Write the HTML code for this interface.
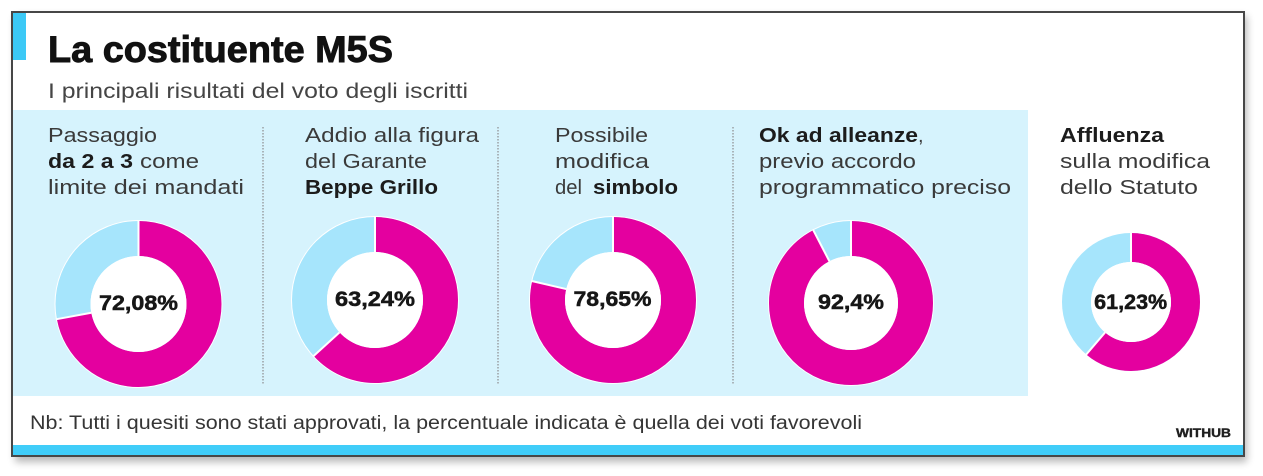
<!DOCTYPE html>
<html>
<head>
<meta charset="utf-8">
<style>
html,body{margin:0;padding:0;background:#fff;width:1263px;height:476px;overflow:hidden}
svg{display:block}
text{font-family:"Liberation Sans","DejaVu Sans",sans-serif}
.reg{font-size:20px;fill:#3a3a3a}
.bld{font-size:20px;font-weight:bold;fill:#1c1c1c}
.pct{font-size:21px;font-weight:bold;fill:#161616;stroke:#161616;stroke-width:0.5}
</style>
</head>
<body>
<svg width="1263" height="476" viewBox="0 0 1263 476">
<defs>
<filter id="sh" x="-3%" y="-5%" width="106%" height="115%"><feGaussianBlur stdDeviation="4"/></filter>
</defs>
<!-- shadow + frame -->
<rect x="15" y="16" width="1232" height="446" fill="#000" opacity="0.28" filter="url(#sh)"/>
<rect x="12" y="12" width="1232" height="444" fill="#fff" stroke="#474747" stroke-width="2"/>
<!-- accent bar -->
<rect x="13" y="13" width="13" height="47" fill="#3cc9f6"/>
<!-- title -->
<text x="48" y="62" font-size="37" font-weight="bold" fill="#111" stroke="#111" stroke-width="0.9" textLength="345" lengthAdjust="spacingAndGlyphs">La costituente M5S</text>
<text x="48" y="98" font-size="21" fill="#454545" textLength="420" lengthAdjust="spacingAndGlyphs">I principali risultati del voto degli iscritti</text>
<!-- blue panel -->
<rect x="13" y="110" width="1015" height="286" fill="#d6f3fd"/>
<!-- dividers -->
<g stroke="#9a9fa3" stroke-width="1.5" stroke-dasharray="1.5 1.5">
<line x1="263" y1="127" x2="263" y2="385"/>
<line x1="498" y1="127" x2="498" y2="385"/>
<line x1="733" y1="127" x2="733" y2="385"/>
</g>

<!-- panel 1 text -->
<text class="reg" x="48" y="142" textLength="109" lengthAdjust="spacingAndGlyphs">Passaggio</text>
<text class="bld" x="48" y="168" textLength="85" lengthAdjust="spacingAndGlyphs">da 2 a 3</text>
<text class="reg" x="140" y="168" textLength="59" lengthAdjust="spacingAndGlyphs">come</text>
<text class="reg" x="48" y="194" textLength="196" lengthAdjust="spacingAndGlyphs">limite dei mandati</text>

<!-- panel 2 text -->
<text class="reg" x="305" y="142" textLength="174" lengthAdjust="spacingAndGlyphs">Addio alla figura</text>
<text class="reg" x="305" y="168" textLength="122" lengthAdjust="spacingAndGlyphs">del Garante</text>
<text class="bld" x="305" y="194" textLength="133" lengthAdjust="spacingAndGlyphs">Beppe Grillo</text>

<!-- panel 3 text -->
<text class="reg" x="555" y="142" textLength="93" lengthAdjust="spacingAndGlyphs">Possibile</text>
<text class="reg" x="555" y="168" textLength="94" lengthAdjust="spacingAndGlyphs">modifica</text>
<text class="reg" x="555" y="194" textLength="27" lengthAdjust="spacingAndGlyphs">del</text>
<text class="bld" x="593" y="194" textLength="85" lengthAdjust="spacingAndGlyphs">simbolo</text>

<!-- panel 4 text -->
<text class="bld" x="759" y="142" textLength="159" lengthAdjust="spacingAndGlyphs">Ok ad alleanze</text>
<text class="reg" x="918" y="142">,</text>
<text class="reg" x="759" y="168" textLength="157" lengthAdjust="spacingAndGlyphs">previo accordo</text>
<text class="reg" x="759" y="194" textLength="252" lengthAdjust="spacingAndGlyphs">programmatico preciso</text>

<!-- panel 5 text -->
<text class="bld" x="1060" y="142" textLength="104" lengthAdjust="spacingAndGlyphs">Affluenza</text>
<text class="reg" x="1060" y="168" textLength="150" lengthAdjust="spacingAndGlyphs">sulla modifica</text>
<text class="reg" x="1060" y="194" textLength="138" lengthAdjust="spacingAndGlyphs">dello Statuto</text>

<!-- donut 1 -->
<g>
<circle cx="138.5" cy="304" r="84" fill="#fff"/>
<circle cx="138.5" cy="304" r="65.5" fill="none" stroke="#a6e5fc" stroke-width="35"/>
<circle cx="138.5" cy="304" r="65.5" fill="none" stroke="#e4009f" stroke-width="35" pathLength="100" stroke-dasharray="72.08 100" transform="rotate(-90 138.5 304)"/>
<circle cx="138.5" cy="304" r="48" fill="#fff"/>
<line x1="138.5" y1="256" x2="138.5" y2="220" stroke="#fff" stroke-width="2"/>
<line x1="138.5" y1="256" x2="138.5" y2="220" stroke="#fff" stroke-width="2" transform="rotate(259.49 138.5 304)"/>
<text class="pct" x="138.5" y="310" text-anchor="middle" textLength="79" lengthAdjust="spacingAndGlyphs">72,08%</text>
</g>
<!-- donut 2 -->
<g>
<circle cx="375" cy="300" r="84" fill="#fff"/>
<circle cx="375" cy="300" r="65.5" fill="none" stroke="#a6e5fc" stroke-width="35"/>
<circle cx="375" cy="300" r="65.5" fill="none" stroke="#e4009f" stroke-width="35" pathLength="100" stroke-dasharray="63.24 100" transform="rotate(-90 375 300)"/>
<circle cx="375" cy="300" r="48" fill="#fff"/>
<line x1="375" y1="252" x2="375" y2="216" stroke="#fff" stroke-width="2"/>
<line x1="375" y1="252" x2="375" y2="216" stroke="#fff" stroke-width="2" transform="rotate(227.66 375 300)"/>
<text class="pct" x="375" y="306" text-anchor="middle" textLength="80" lengthAdjust="spacingAndGlyphs">63,24%</text>
</g>
<!-- donut 3 -->
<g>
<circle cx="613" cy="300" r="84" fill="#fff"/>
<circle cx="613" cy="300" r="65.5" fill="none" stroke="#a6e5fc" stroke-width="35"/>
<circle cx="613" cy="300" r="65.5" fill="none" stroke="#e4009f" stroke-width="35" pathLength="100" stroke-dasharray="78.65 100" transform="rotate(-90 613 300)"/>
<circle cx="613" cy="300" r="48" fill="#fff"/>
<line x1="613" y1="252" x2="613" y2="216" stroke="#fff" stroke-width="2"/>
<line x1="613" y1="252" x2="613" y2="216" stroke="#fff" stroke-width="2" transform="rotate(283.14 613 300)"/>
<text class="pct" x="612.5" y="306" text-anchor="middle" textLength="78" lengthAdjust="spacingAndGlyphs">78,65%</text>
</g>
<!-- donut 4 -->
<g>
<circle cx="851" cy="303" r="83" fill="#fff"/>
<circle cx="851" cy="303" r="64.5" fill="none" stroke="#a6e5fc" stroke-width="35"/>
<circle cx="851" cy="303" r="64.5" fill="none" stroke="#e4009f" stroke-width="35" pathLength="100" stroke-dasharray="92.4 100" transform="rotate(-90 851 303)"/>
<circle cx="851" cy="303" r="47" fill="#fff"/>
<line x1="851" y1="256" x2="851" y2="220" stroke="#fff" stroke-width="2"/>
<line x1="851" y1="256" x2="851" y2="220" stroke="#fff" stroke-width="2" transform="rotate(332.64 851 303)"/>
<text class="pct" x="851" y="309" text-anchor="middle" textLength="66" lengthAdjust="spacingAndGlyphs">92,4%</text>
</g>
<!-- donut 5 -->
<g>
<circle cx="1131" cy="302" r="70" fill="#fff"/>
<circle cx="1131" cy="302" r="54.5" fill="none" stroke="#a6e5fc" stroke-width="29"/>
<circle cx="1131" cy="302" r="54.5" fill="none" stroke="#e4009f" stroke-width="29" pathLength="100" stroke-dasharray="61.23 100" transform="rotate(-90 1131 302)"/>
<circle cx="1131" cy="302" r="40" fill="#fff"/>
<line x1="1131" y1="262" x2="1131" y2="232" stroke="#fff" stroke-width="2"/>
<line x1="1131" y1="262" x2="1131" y2="232" stroke="#fff" stroke-width="2" transform="rotate(220.43 1131 302)"/>
<text class="pct" x="1130.7" y="309" text-anchor="middle" font-size="20" textLength="73" lengthAdjust="spacingAndGlyphs">61,23%</text>
</g>

<!-- footer -->
<text x="30" y="429" font-size="19" fill="#353535" textLength="832" lengthAdjust="spacingAndGlyphs">Nb: Tutti i quesiti sono stati approvati, la percentuale indicata è quella dei voti favorevoli</text>
<text x="1176" y="437" font-size="12" font-weight="bold" fill="#1e1e1e" stroke="#1e1e1e" stroke-width="0.4" textLength="55" lengthAdjust="spacingAndGlyphs">WITHUB</text>
<rect x="13" y="445" width="1230" height="10" fill="#40cdf9"/>
</svg>
</body>
</html>
